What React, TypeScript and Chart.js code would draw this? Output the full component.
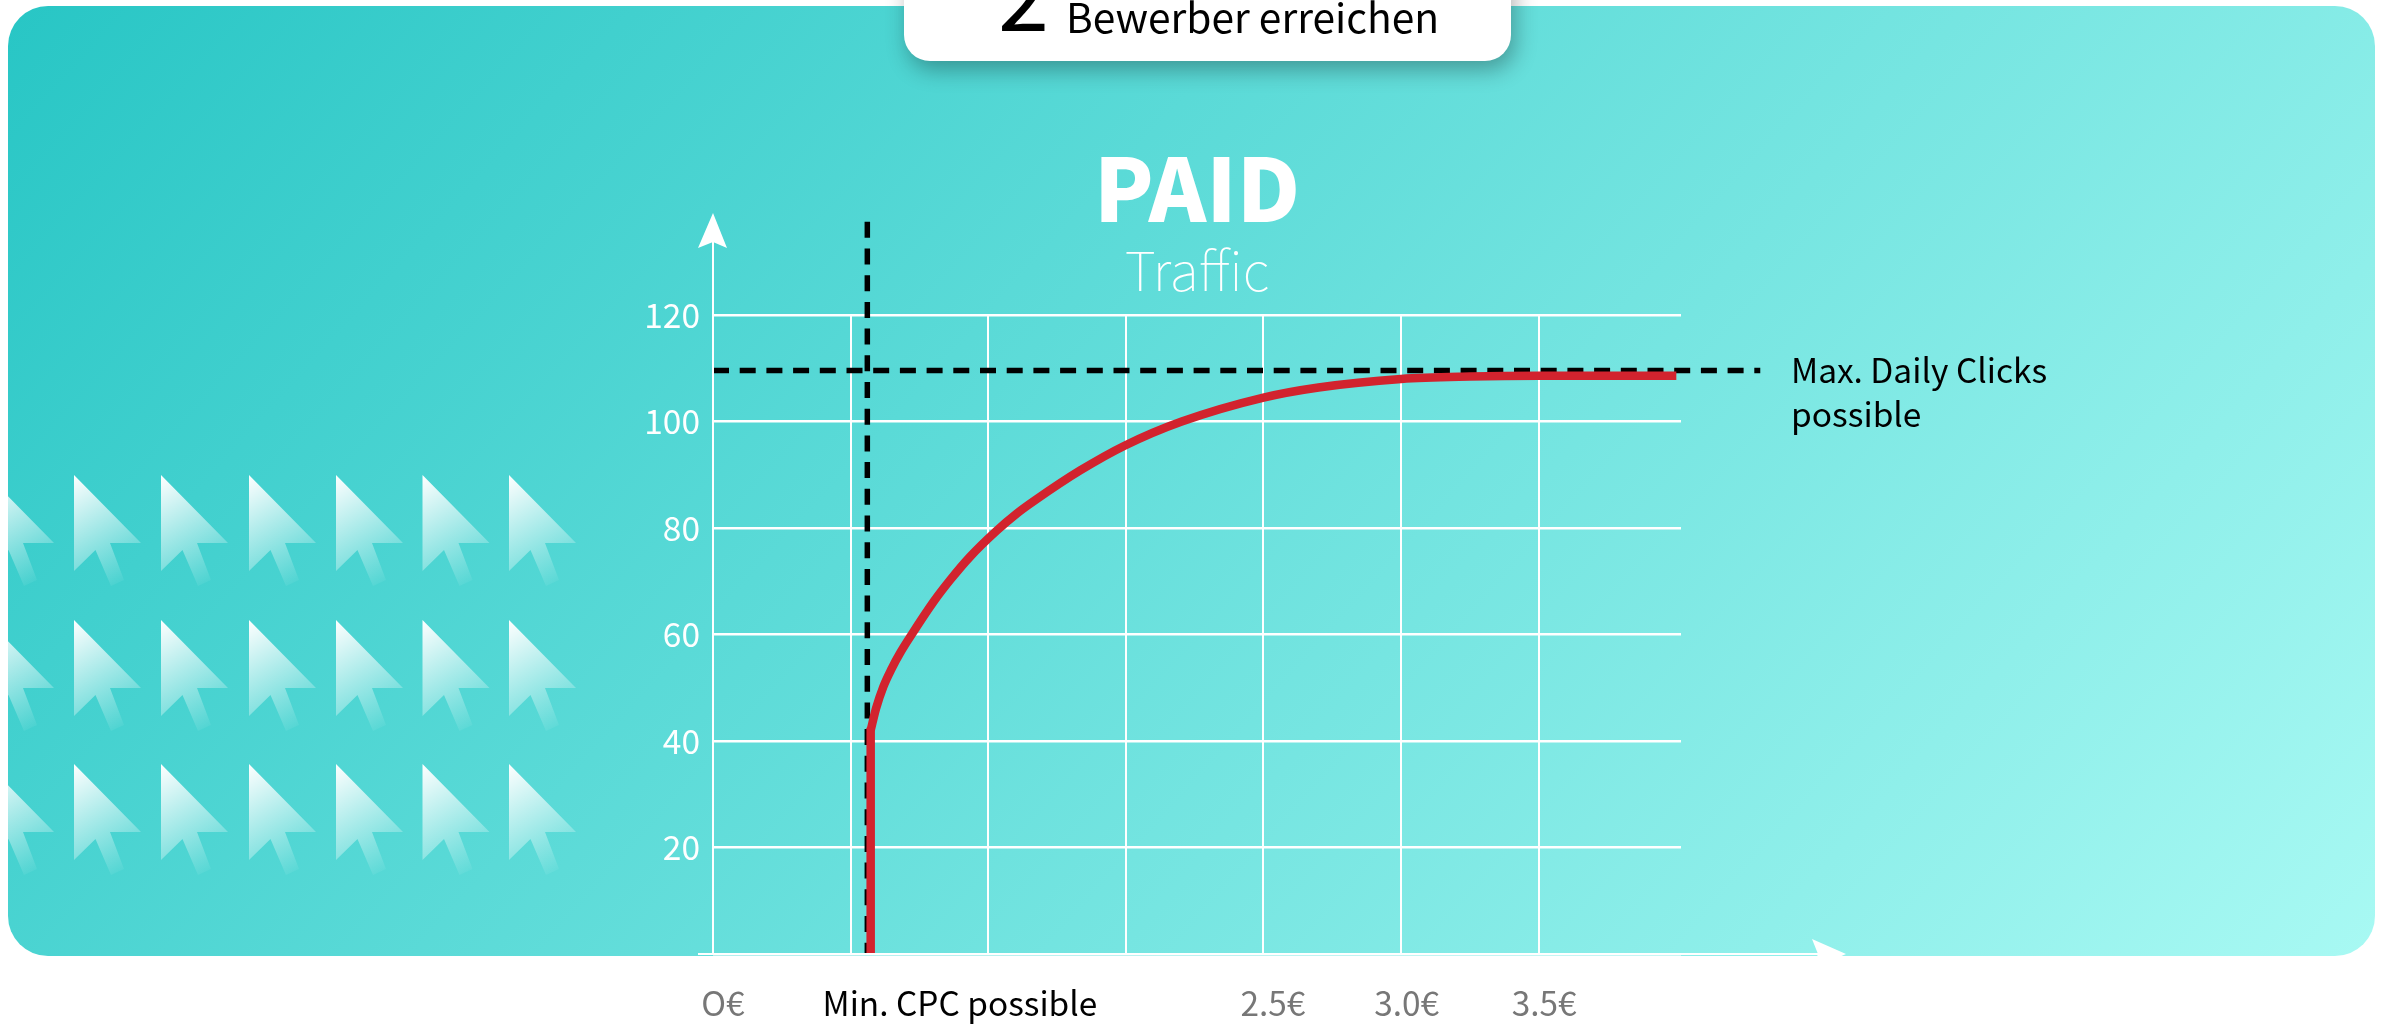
import React, { useEffect, useRef } from "react";
import { Chart, registerables } from "chart.js";

Chart.register(...registerables);

const FONT = '"Noto Sans CJK SC", "Noto Sans", sans-serif';

const yTicks = [0, 20, 40, 60, 80, 100, 120];
const xGrid = [0, 0.5, 1, 1.5, 2, 2.5, 3];
const xLabelPositions = [0.036, 0.897, 2.034, 2.52, 3.02];
const xLabels = ["O€", "Min. CPC possible", "2.5€", "3.0€", "3.5€"];
const xLabelColors = ["#777777", "#000000", "#777777", "#777777", "#777777"];
const riseX = [0.5729, 0.5729];
const riseY = [0, 42.5];
const curveX = [0.5729, 0.5923, 0.6189, 0.6492, 0.6795, 0.7219, 0.8006, 0.8612, 0.9339, 1.0308, 1.1035, 1.17, 1.334, 1.497, 1.703, 2.0, 2.2, 2.5, 2.75, 3.0, 3.25, 3.5];
const curveY = [42, 46.1, 50.2, 53.6, 56.5, 60, 66.1, 70.2, 74.6, 79.5, 82.7, 85.2, 90.8, 95.5, 100, 104.5, 106.4, 108, 108.45, 108.6, 108.6, 108.6];
const minCpcX = [0.5607, 0.5607];
const minCpcY = [137.5, 0];
const maxClicksX = [0, 3.805];
const maxClicksY = [109.6, 109.6];
const xMin = 0;
const xMax = 3.517;

const decor = {
  id: "decor",
  beforeDraw(c: any) {
    const g = c.ctx;
    g.save();
    g.fillStyle = "#fff";
    g.fillRect(0, 0, 2393, 1024);
    const grad = g.createLinearGradient(8, 6, 1788, 1608);
    grad.addColorStop(0, "#28C6C5");
    grad.addColorStop(1, "#A8F9F3");
    g.fillStyle = grad;
    g.beginPath();
    g.roundRect(8, 6, 2367, 950, 40);
    g.fill();
    g.clip();
    for (const top of [475, 620, 764]) {
      for (const left of [-13, 74, 161, 249, 336, 422.5, 509]) {
        const ar = g.createLinearGradient(left, top, left + 58, top + 100);
        ar.addColorStop(0, "rgba(255,255,255,1)");
        ar.addColorStop(1, "rgba(255,255,255,0.05)");
        g.fillStyle = ar;
        g.beginPath();
        const pts = [[0, 0], [67, 68], [36, 68], [50, 105], [37, 111], [21.5, 75], [0, 96]];
        pts.forEach(([a, b], i) => (i ? g.lineTo(left + a, top + b) : g.moveTo(left + a, top + b)));
        g.closePath();
        g.fill();
      }
    }
    g.restore();

    g.save();
    g.shadowColor = "rgba(0,0,0,0.3)";
    g.shadowBlur = 22;
    g.shadowOffsetX = 4;
    g.shadowOffsetY = 9;
    g.fillStyle = "#fff";
    g.beginPath();
    g.roundRect(904, -40, 607, 101, 26);
    g.fill();
    g.restore();

    g.save();
    g.fillStyle = "#000";
    g.textBaseline = "alphabetic";
    g.font = `400 92px ${FONT}`;
    g.fillText("2", 998, 31);
    g.font = `400 40.7px ${FONT}`;
    g.fillText("Bewerber erreichen", 1066, 33);
    g.restore();
  },
  afterDatasetsDraw(c: any) {
    const g = c.ctx;
    const x0 = c.scales.x.getPixelForValue(0);
    const y0 = c.scales.y.getPixelForValue(0);
    g.save();
    g.fillStyle = "#fff";
    g.fillRect(x0 - 15, y0 - 1, 1122, 2);
    g.fillRect(x0 - 1, 242, 2, y0 - 242);
    g.beginPath();
    g.moveTo(x0, 213);
    g.lineTo(x0 + 14, 248);
    g.lineTo(x0, 242);
    g.lineTo(x0 - 15, 248);
    g.closePath();
    g.fill();
    g.beginPath();
    g.moveTo(1846, y0);
    g.lineTo(1812, y0 - 15);
    g.lineTo(1818, y0);
    g.lineTo(1812, y0 + 15);
    g.closePath();
    g.fill();
    g.fillStyle = "#000";
    g.textBaseline = "alphabetic";
    g.font = `400 33.5px ${FONT}`;
    g.fillText("Max. Daily Clicks", 1791, 383);
    g.fillText("possible", 1791, 427);
    g.restore();
  },
};

const red = { showLine: true, borderColor: "#D2232E", borderWidth: 8.5, pointRadius: 0, order: 1, clip: false };
const dash = { showLine: true, borderColor: "#000", borderWidth: 5.5, borderDash: [16, 10.7], pointRadius: 0, order: 2, clip: false };

export default function App() {
  const ref = useRef<HTMLCanvasElement>(null);
  useEffect(() => {
    const chart = new Chart(ref.current!, {
      type: "scatter",
      data: {
        datasets: [
          { ...red, data: riseX.map((x, i) => ({ x, y: riseY[i] })) },
          { ...red, cubicInterpolationMode: "monotone", data: curveX.map((x, i) => ({ x, y: curveY[i] })) },
          { ...dash, data: minCpcX.map((x, i) => ({ x, y: minCpcY[i] })) },
          { ...dash, data: maxClicksX.map((x, i) => ({ x, y: maxClicksY[i] })) },
        ],
      } as any,
      options: {
        responsive: false,
        animation: false,
        events: [],
        layout: { padding: { top: 145, right: 712, left: 0, bottom: 0 } },
        plugins: {
          legend: { display: false },
          tooltip: { enabled: false },
          title: {
            display: true,
            fullSize: false,
            text: "PAID",
            color: "#fff",
            font: { family: FONT, size: 87, weight: "900", lineHeight: 1 },
            padding: { top: 0, bottom: 11 },
          },
          subtitle: {
            display: true,
            fullSize: false,
            text: "Traffic",
            color: "#fff",
            font: { family: FONT, size: 54, weight: "100", lineHeight: 1 },
            padding: { top: 0, bottom: 18 },
          },
        },
        scales: {
          x: {
            type: "linear",
            min: xMin,
            max: xMax,
            position: "bottom",
            afterBuildTicks: (s: any) => {
              s.ticks = xGrid.map((value) => ({ value }));
            },
            afterFit: (s: any) => {
              s.height = 0;
            },
            grid: { color: "#fff", lineWidth: 2, drawTicks: false },
            border: { display: false },
            ticks: { display: false },
          },
          x2: {
            type: "linear",
            min: xMin,
            max: xMax,
            position: "bottom",
            afterBuildTicks: (s: any) => {
              s.ticks = xLabelPositions.map((value) => ({ value }));
            },
            afterFit: (s: any) => {
              s.height = 70;
            },
            grid: { display: false },
            border: { display: false },
            ticks: {
              autoSkip: false,
              maxRotation: 0,
              padding: 21,
              font: { family: FONT, size: 33.4 },
              color: (ctx: any) => xLabelColors[ctx.index],
              callback: (_v: any, i: number) => xLabels[i],
            },
          },
          y: {
            type: "linear",
            min: 0,
            max: 120,
            afterBuildTicks: (s: any) => {
              s.ticks = yTicks.map((value) => ({ value }));
            },
            afterFit: (s: any) => {
              s.width = 713;
            },
            grid: { color: "#fff", lineWidth: 2.5, drawTicks: false },
            border: { display: false },
            ticks: {
              padding: 13,
              color: "#fff",
              font: { family: FONT, size: 33.5, weight: "400" },
              callback: (v: any) => (v === 0 ? "" : String(v)),
            },
          },
        },
      },
      plugins: [decor],
    } as any);
    return () => chart.destroy();
  }, []);
  return (
    <canvas
      ref={ref}
      width={2393}
      height={1024}
      style={{ position: "absolute", left: 0, top: 0, display: "block" }}
    />
  );
}
